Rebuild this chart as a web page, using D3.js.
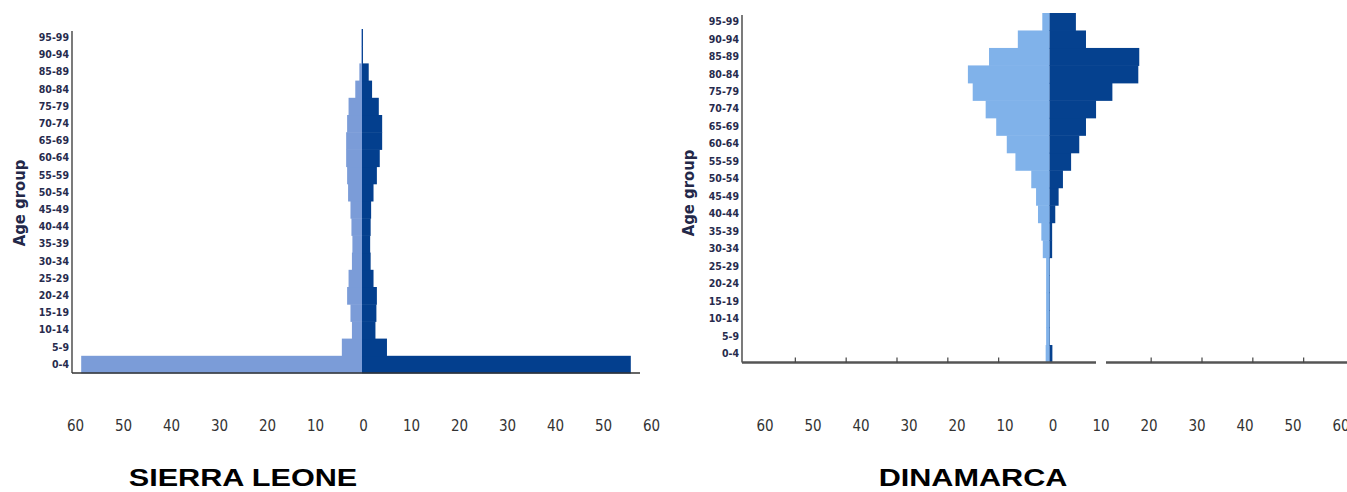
<!DOCTYPE html>
<html>
<head>
<meta charset="utf-8">
<script src="https://cdnjs.cloudflare.com/ajax/libs/d3/7.8.5/d3.min.js"></script>
<style>
  body { margin: 0; background: #fff; }
  svg { display: block; }
  .agelab { font-family: "DejaVu Sans Condensed", "DejaVu Sans", sans-serif; font-stretch: condensed; font-size: 10.5px; font-weight: bold; fill: #272b4d; }
  .ticklab { font-family: "DejaVu Sans Condensed", "DejaVu Sans", sans-serif; font-stretch: condensed; font-size: 15px; fill: #333; }
  .ytitle { font-family: "DejaVu Sans Condensed", "DejaVu Sans", sans-serif; font-stretch: condensed; font-size: 16.5px; font-weight: bold; fill: #232849; }
  .title { font-family: "Liberation Sans", Arial, sans-serif; font-size: 24.5px; font-weight: bold; fill: #000; }
</style>
</head>
<body>
<div id="chart"></div>
<script>
// age groups, bottom to top
var ages = ["0-4", "5-9", "10-14", "15-19", "20-24", "25-29", "30-34", "35-39", "40-44", "45-49",
  "50-54", "55-59", "60-64", "65-69", "70-74", "75-79", "80-84", "85-89", "90-94", "95-99"];

// sierra leone (left bars light, right bars dark)
var sierraLeft = [58.5, 4.2, 2.1, 2.4, 3.1, 2.8, 2.1, 2.0, 2.2, 2.4, 2.9, 3.1, 3.3, 3.3, 3.1, 2.8, 1.4, 0.55, 0.15, 0.15];
var sierraRight = [56, 5.2, 2.8, 3.0, 3.1, 2.4, 1.8, 1.7, 1.8, 1.9, 2.4, 3.1, 3.7, 4.2, 4.2, 3.5, 2.1, 1.4, 0.2, 0.2];

// dinamarca
var denmarkLeft = [0.8, 0.7, 0.7, 0.7, 0.7, 0.7, 1.4, 1.7, 2.4, 2.8, 3.8, 7.1, 8.9, 11.1, 13.3, 16, 17, 12.6, 6.6, 1.5];
var denmarkRight = [0.6, 0.1, 0.1, 0.1, 0.1, 0.1, 0.55, 0.55, 1.2, 1.9, 2.8, 4.5, 6.2, 7.6, 9.7, 13.1, 18.5, 18.7, 7.6, 5.5];

// x tick labels
var tickVals = [-60, -50, -40, -30, -20, -10, 0, 10, 20, 30, 40, 50, 60];

var W = 1347, H = 492;

var svg = d3.select("#chart")
  .append("svg")
  .attr("width", W)
  .attr("height", H);

var drawPyramid = function(opt) {
  var g = svg.append("g");

  var x = d3.scaleLinear()
    .domain([-60, 60])
    .range([opt.center - 288, opt.center + 288]);

  var y = d3.scaleBand()
    .domain(ages)
    .range([opt.bottom, opt.top])
    .paddingInner(0);

  var rows = ages.map(function(a, i) {
    return { age: a, left: opt.left[i], right: opt.right[i] };
  });

  // left side bars
  g.selectAll(".lbar")
    .data(rows)
    .enter().append("rect")
    .attr("class", "lbar")
    .attr("x", function(d) { return x(-d.left); })
    .attr("y", function(d) { return y(d.age); })
    .attr("width", function(d) { return x(0) - x(-d.left); })
    .attr("height", y.bandwidth() + 0.5)
    .attr("fill", opt.light);

  // right side bars
  g.selectAll(".rbar")
    .data(rows)
    .enter().append("rect")
    .attr("class", "rbar")
    .attr("x", x(0))
    .attr("y", function(d) { return y(d.age); })
    .attr("width", function(d) { return x(d.right) - x(0); })
    .attr("height", y.bandwidth() + 0.5)
    .attr("fill", opt.dark);

  // y axis with age labels
  g.append("g")
    .attr("transform", "translate(" + opt.axisX + ",0)")
    .call(d3.axisLeft(y).tickSize(0).tickPadding(3))
    .call(function(a) {
      a.select(".domain").remove();
      a.selectAll("text").attr("class", "agelab").attr("font-size", null).attr("font-family", null);
    });

  g.append("line")
    .attr("x1", opt.axisX).attr("x2", opt.axisX)
    .attr("y1", opt.top + 2).attr("y2", opt.bottom)
    .attr("stroke", "#333")
    .attr("stroke-width", 1.3);

  // x axis line (maybe with a break)
  opt.baseSegs.forEach(function(s) {
    g.append("line")
      .attr("x1", s[0]).attr("x2", s[1])
      .attr("y1", opt.bottom).attr("y2", opt.bottom)
      .attr("stroke", opt.baseColor)
      .attr("stroke-width", opt.baseWidth);
  });

  // small tick marks on the base line
  if (opt.markTicks) {
    var tx = d3.scaleLinear().domain([-60, 60]).range([opt.center - 305, opt.center + 305]);
    g.selectAll(".mark")
      .data(opt.markTicks)
      .enter().append("line")
      .attr("x1", function(d) { return tx(d); })
      .attr("x2", function(d) { return tx(d); })
      .attr("y1", opt.bottom)
      .attr("y2", opt.bottom - 5)
      .attr("stroke", "#444")
      .attr("stroke-width", 1.2);
  }

  // x tick labels, set apart below the chart
  g.append("g")
    .attr("transform", "translate(0," + 420 + ")")
    .call(d3.axisBottom(x).tickValues(tickVals).tickSize(0).tickPadding(0)
      .tickFormat(function(d) { return Math.abs(d); }))
    .call(function(a) {
      a.select(".domain").remove();
      a.selectAll("text").attr("class", "ticklab").attr("font-size", null).attr("font-family", null)
        .attr("dx", opt.labelShift);
    });

  // rotated axis title
  g.append("text")
    .attr("class", "ytitle")
    .attr("transform", "translate(" + opt.titleX + "," + opt.titleY + ") rotate(-90)")
    .attr("text-anchor", "middle")
    .text("Age group");

  // country name
  g.append("text")
    .attr("class", "title")
    .attr("transform", "translate(" + opt.nameX + ",486) scale(1.25,1)")
    .attr("text-anchor", "middle")
    .text(opt.name);
};

drawPyramid({
  name: "SIERRA LEONE",
  left: sierraLeft, right: sierraRight,
  center: 362, top: 29, bottom: 373, axisX: 72,
  light: "#7b9cd8", dark: "#033f8e",
  baseSegs: [[72, 640]], baseColor: "#333", baseWidth: 1.5,
  markTicks: null, labelShift: 1,
  titleX: 25, titleY: 203, nameX: 243
});

drawPyramid({
  name: "DINAMARCA",
  left: denmarkLeft, right: denmarkRight,
  center: 1049.5, top: 13, bottom: 362.5, axisX: 742,
  light: "#80b2ea", dark: "#05418f",
  baseSegs: [[742, 1096], [1106, 1347]], baseColor: "#555", baseWidth: 2.5,
  markTicks: [-50, -40, -30, -20, -10, 20, 30, 40, 50], labelShift: 3,
  titleX: 694, titleY: 193, nameX: 973
});
</script>
</body>
</html>
